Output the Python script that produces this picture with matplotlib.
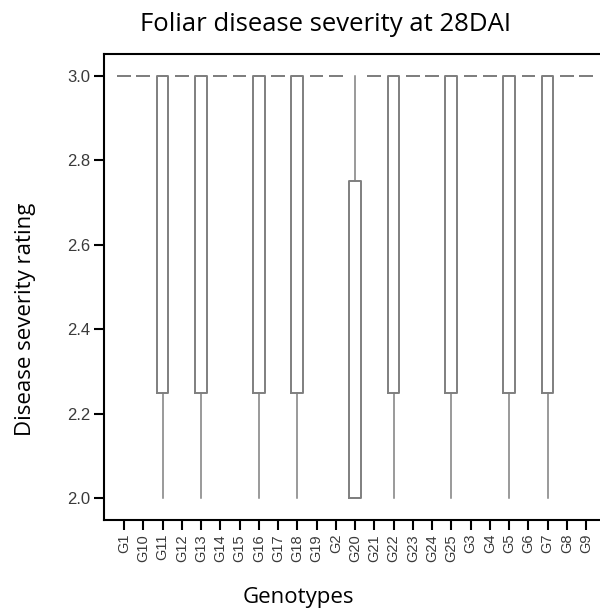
import numpy as np
import matplotlib.pyplot as plt

genotypes = ['G1', 'G10', 'G11', 'G12', 'G13', 'G14', 'G15', 'G16', 'G17', 'G18',
             'G19', 'G2', 'G20', 'G21', 'G22', 'G23', 'G24', 'G25', 'G3', 'G4',
             'G5', 'G6', 'G7', 'G8', 'G9']
q1 = [3, 3, 2.25, 3, 2.25, 3, 3, 2.25, 3, 2.25, 3, 3, 2.0, 3, 2.25, 3, 3, 2.25,
      3, 3, 2.25, 3, 2.25, 3, 3]
med = [3, 3, 3, 3, 3, 3, 3, 3, 3, 3, 3, 3, 2.0, 3, 3, 3, 3, 3, 3, 3, 3, 3, 3, 3, 3]
q3 = [3, 3, 3, 3, 3, 3, 3, 3, 3, 3, 3, 3, 2.75, 3, 3, 3, 3, 3, 3, 3, 3, 3, 3, 3, 3]
lo = [3, 3, 2, 3, 2, 3, 3, 2, 3, 2, 3, 3, 2, 3, 2, 3, 3, 2, 3, 3, 2, 3, 2, 3, 3]
hi = [3] * 25

stats = []
for g, a, m, b, l, h in zip(genotypes, q1, med, q3, lo, hi):
    stats.append(dict(label=g, q1=a, med=m, q3=b, whislo=l, whishi=h, fliers=[]))

fig = plt.figure(figsize=(6, 6.09), dpi=100)
ax = fig.add_axes([0.1733, 0.1461, 0.84, 0.7652])

gray = '#7f7f7f'
ax.bxp(stats, positions=np.arange(len(genotypes)), widths=0.6, showcaps=False,
       boxprops=dict(color=gray, linewidth=1.4),
       whiskerprops=dict(color=gray, linewidth=1.1),
       medianprops=dict(color=gray, linewidth=1.4))

ax.set_xlim(-1.04, 25.14)
ax.set_ylim(1.948, 3.052)
ax.set_yticks([2.0, 2.2, 2.4, 2.6, 2.8, 3.0])
ax.set_yticklabels(['2.0', '2.2', '2.4', '2.6', '2.8', '3.0'])
ax.set_xticks(np.arange(len(genotypes)))
ax.set_xticklabels(genotypes, rotation=90)
ax.tick_params(direction='out', length=7, width=1.5, colors='black', pad=3)
for lab in ax.get_xticklabels():
    lab.set_family('Liberation Sans')
    lab.set_fontsize(10.5)
    lab.set_color('#3a3a3a')
for lab in ax.get_yticklabels():
    lab.set_family('Liberation Sans')
    lab.set_fontsize(12)
    lab.set_color('#3a3a3a')
for s in ax.spines.values():
    s.set_linewidth(1.5)

fig.text(0.543, 1 - 31 / 609, 'Foliar disease severity at 28DAI', fontsize=18.5,
         family='Open Sans', ha='center', va='baseline')
fig.text(0.042, 0.475, 'Disease severity rating', fontsize=16, family='Open Sans',
         rotation=90, ha='center', va='center')
fig.text(0.497, 1 - 603 / 609, 'Genotypes', fontsize=16, family='Open Sans',
         ha='center', va='baseline')

fig.savefig('out.png', dpi=100)
